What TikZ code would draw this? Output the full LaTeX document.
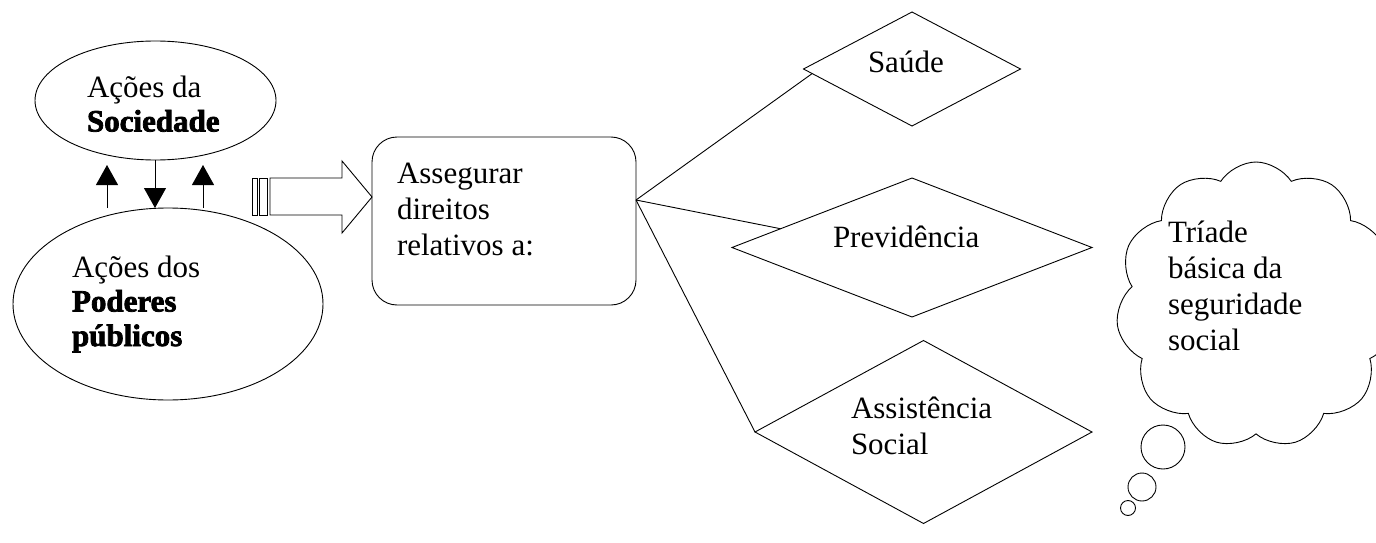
\documentclass[tikz,border=0pt]{standalone}
\usepackage{fontspec}
\setmainfont{Liberation Serif}
\newfontfamily\heavyfam{Liberation Serif}[BoldFeatures={FakeBold=2.5}]
\newcommand\heavy{\heavyfam\bfseries}
\newcommand\textlines[1]{\vtop{\halign{##\hfil\cr#1\crcr}}}
\usetikzlibrary{shapes.geometric,shapes.symbols,arrows.meta,calc}
\begin{document}
\begin{tikzpicture}[x=1pt,y=-1pt,
  every node/.style={inner sep=0pt,outer sep=0pt},
  line/.style={draw=black,line width=0.9pt},
  oval/.style={line,ellipse},
  rhomb/.style={line,diamond},
  txt/.style={anchor=base west,font=\fontsize{31}{36}\selectfont},
  txtb/.style={anchor=base west,font=\fontsize{31}{34.5}\selectfont},
  vert/.style={draw=black,line width=0.9pt,-{Triangle[width=22pt,length=20pt]}},
  block/.style={draw=black,line width=0.9pt,fill=white}]
\useasboundingbox (0,0) rectangle (1376,543);
% ellipses
\node[oval,minimum width=241pt,minimum height=119pt] (soc) at (155.5,100.5) {};
\node[oval,minimum width=310pt,minimum height=192pt] (pod) at (168,304) {};
\node[txtb] (soct) at (87,97) {\textlines{Ações da\cr\heavy Sociedade}};
\node[txtb] (podt) at (72,277) {\textlines{Ações dos\cr\heavy Poderes\cr\heavy públicos}};
% vertical arrows
\draw[vert] ([xshift=-61pt]pod.north) -- ([xshift=-48.5pt,yshift=-5pt]soc.south);
\draw[vert] ([xshift=-0.5pt]soc.south) -- ([xshift=-13pt]pod.north);
\draw[vert] ([xshift=35pt]pod.north) -- ([xshift=47.5pt,yshift=-5pt]soc.south);
% central box
\node[line,rectangle,rounded corners=25pt,minimum width=264pt,minimum height=168pt] (box) at (504,221) {};
\node[txt] (boxt) at (397,183) {\textlines{Assegurar\cr direitos\cr relativos a:}};
% block arrow
\draw[block] (252,178) rectangle (257,215);
\draw[block] (259.5,178) rectangle (267,215);
\draw[block,line join=miter] (270,178) -- (342,178) -- (342,161) -- (box.west|-0,197) -- (342,233) -- (342,215) -- (270,215) -- cycle;
% diamonds
\node[rhomb,minimum width=217pt,minimum height=114pt] (sau) at (912,69) {};
\node[rhomb,minimum width=360pt,minimum height=139pt] (pre) at (912,247.5) {};
\node[rhomb,minimum width=337pt,minimum height=183pt] (ass) at (923.5,432) {};
\node[txt] (saut) at (868,73) {Saúde};
\node[txt] (pret) at (833,247) {Previdência};
\node[txt] (asst) at (851,418) {\textlines{Assistência\cr Social}};
% connectors
\coordinate (hub) at (box.east|-0,200);
\draw[line] (hub) -- ($(sau.west)!0.08!(sau.south)$);
\draw[line] (hub) -- ($(pre.west)!0.27!(pre.north)$);
\draw[line] (hub) -- (ass.west);
% cloud
\node[line,cloud,cloud puffs=11,cloud puff arc=115,cloud ignores aspect,minimum width=280pt,minimum height=286pt] (cl) at (1256,305) {};
\node[txt] (clt) at (1168,242) {\textlines{Tríade\cr básica da\cr seguridade\cr social}};
\node[line,circle,minimum size=44pt] (b1) at (1163,447) {};
\node[line,circle,minimum size=28pt] (b2) at (1142,487) {};
\node[line,circle,minimum size=15pt] (b3) at (1128,508) {};
\end{tikzpicture}
\end{document}
